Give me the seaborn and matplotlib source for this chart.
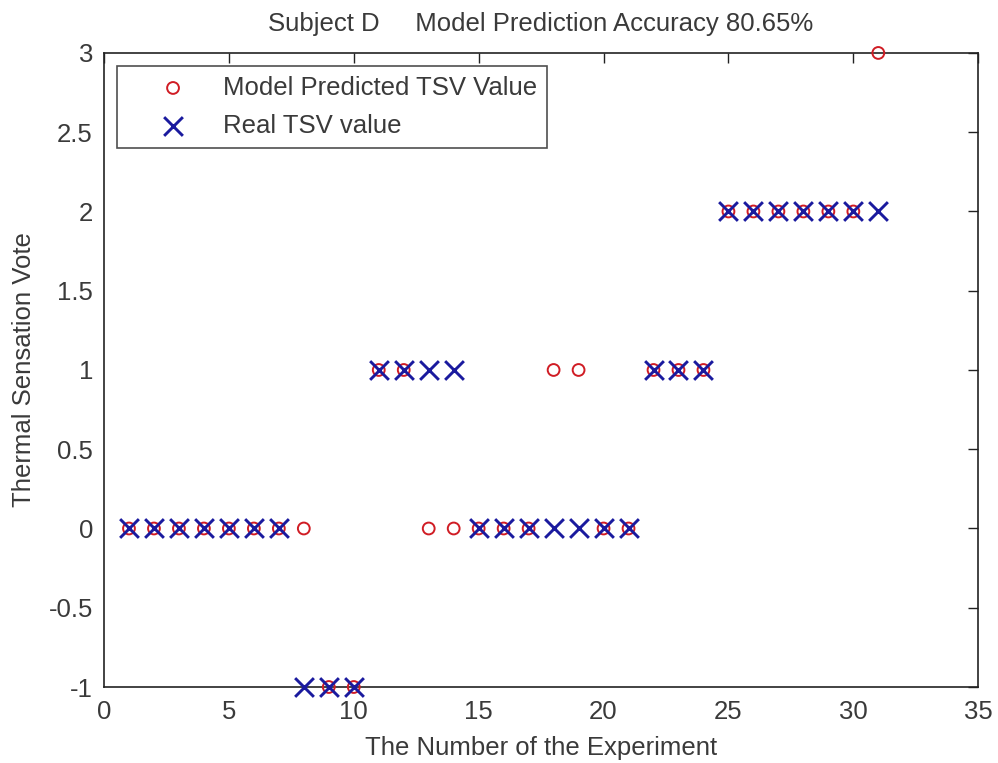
import numpy as np
import pandas as pd
import matplotlib
matplotlib.use("Agg")
import matplotlib.pyplot as plt
import seaborn as sns
from matplotlib.ticker import FuncFormatter

# Experiment index and thermal sensation votes
experiment = list(range(1, 32))
predicted_tsv = [0, 0, 0, 0, 0, 0, 0, 0, -1, -1,
                 1, 1, 0, 0, 0, 0, 0, 1, 1, 0,
                 0, 1, 1, 1, 2, 2, 2, 2, 2, 2,
                 3]
real_tsv = [0, 0, 0, 0, 0, 0, 0, -1, -1, -1,
            1, 1, 1, 1, 0, 0, 0, 0, 0, 0,
            0, 1, 1, 1, 2, 2, 2, 2, 2, 2,
            2]
subject = "D"
accuracy = 100 * np.mean(np.array(predicted_tsv) == np.array(real_tsv))

x_ticks = [0, 5, 10, 15, 20, 25, 30, 35]
y_ticks = [-1, -0.5, 0, 0.5, 1, 1.5, 2, 2.5, 3]

pred_label = "Model Predicted TSV Value"
real_label = "Real TSV value"

sns.set_theme(style="white")
plt.rcParams["font.family"] = ["Liberation Sans", "DejaVu Sans"]
fs = 18.5
text_color = "#3a3a3a"
red = "#d01c24"
blue = "#1a1a9e"

df_pred = pd.DataFrame({"experiment": experiment, "tsv": predicted_tsv})
df_real = pd.DataFrame({"experiment": experiment, "tsv": real_tsv})

fig = plt.figure(figsize=(9.98, 7.63), dpi=100)
ax = fig.add_axes([0.1042, 0.0996, 0.876, 0.831])

sns.scatterplot(data=df_pred, x="experiment", y="tsv", ax=ax, marker="o",
                s=8.5 ** 2, facecolors="none", edgecolor=red, linewidth=1.4,
                label=pred_label, clip_on=False, zorder=3)
sns.scatterplot(data=df_real, x="experiment", y="tsv", ax=ax, marker="x",
                s=13.5 ** 2, color=blue, linewidth=2.1,
                label=real_label, clip_on=False, zorder=4)

ax.set_xlim(0, 35)
ax.set_ylim(-1, 3)
ax.set_xticks(x_ticks)
ax.set_yticks(y_ticks)
ax.yaxis.set_major_formatter(FuncFormatter(lambda v, p: f"{v:g}"))
ax.tick_params(direction="in", length=7.5, width=1.0, top=True, right=True,
               labelsize=fs, colors="#222222", labelcolor=text_color)
ax.tick_params(axis="x", pad=9)
ax.tick_params(axis="y", pad=8)
for sp in ax.spines.values():
    sp.set_color("#222222")
    sp.set_linewidth(1.2)

ax.set_xlabel("The Number of the Experiment", fontsize=fs, color=text_color, labelpad=9)
ax.set_ylabel("Thermal Sensation Vote", fontsize=fs, color=text_color, labelpad=9)
ax.set_title(f"Subject {subject}     Model Prediction Accuracy {accuracy:.2f}%",
             fontsize=fs, color=text_color, pad=16)

leg = ax.legend(loc="upper left", bbox_to_anchor=(0.0149, 0.9795), fontsize=fs,
                frameon=True, fancybox=False, edgecolor="#222222",
                borderpad=0.38, handletextpad=0.15, labelspacing=0.55,
                handlelength=3.6, borderaxespad=0.0)
leg.get_frame().set_linewidth(1.2)
for t in leg.get_texts():
    t.set_color(text_color)

fig.savefig("out.png", dpi=100)
